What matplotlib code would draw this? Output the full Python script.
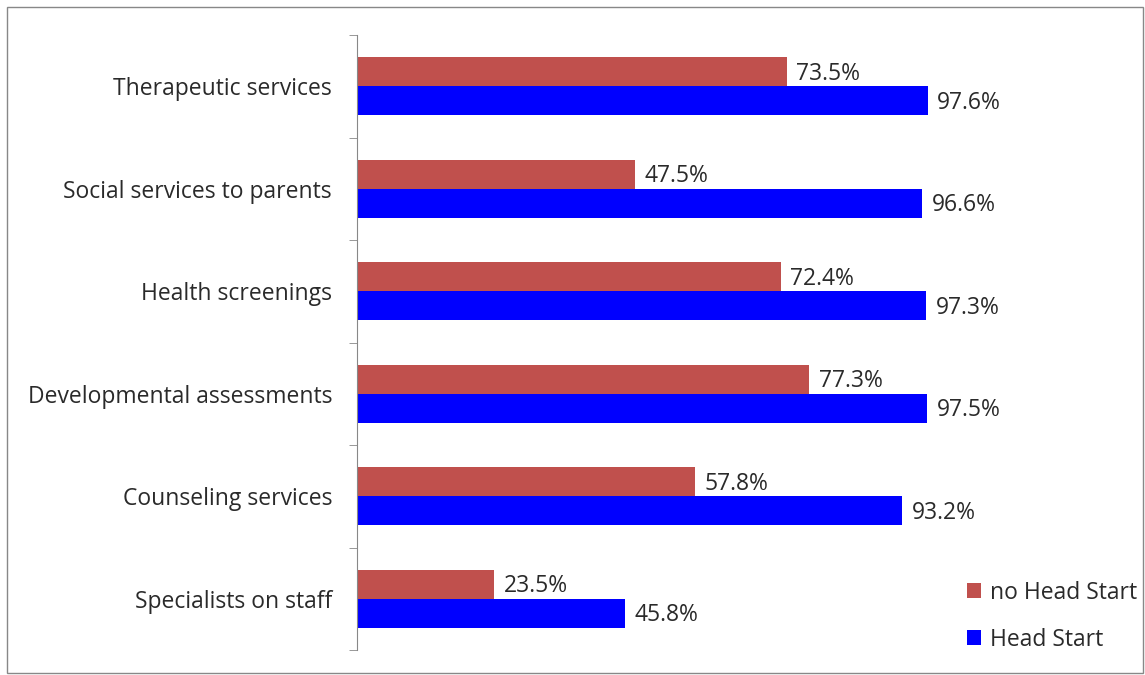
import matplotlib.pyplot as plt
import matplotlib.patches as mpatches
import numpy as np

categories = ["Therapeutic services", "Social services to parents", "Health screenings",
              "Developmental assessments", "Counseling services", "Specialists on staff"]
no_head_start = [73.5, 47.5, 72.4, 77.3, 57.8, 23.5]
head_start = [97.6, 96.6, 97.3, 97.5, 93.2, 45.8]

plt.rcParams['font.family'] = ['Open Sans', 'DejaVu Sans']
text_color = "#2a2a2a"
fs = 16.5

fig = plt.figure(figsize=(11.45, 6.75), dpi=100)
ax = fig.add_axes([357 / 1145, 25 / 675, (1130 - 357) / 1145, (650 - 35) / 675])

y = np.arange(len(categories))
h = 0.285
ax.barh(y - h / 2, no_head_start, height=h, color="#C0504D", label="no Head Start")
ax.barh(y + h / 2, head_start, height=h, color="#0000FF", label="Head Start")

for yi, v in zip(y, no_head_start):
    ax.text(v + 1.6, yi - h / 2 + 0.02, f"{v:.1f}%", va="center", ha="left", fontsize=fs, color=text_color)
for yi, v in zip(y, head_start):
    ax.text(v + 1.6, yi + h / 2 + 0.02, f"{v:.1f}%", va="center", ha="left", fontsize=fs, color=text_color)

ax.set_xlim(0, (1130 - 357) / 5.85)
ax.set_ylim(len(categories) - 0.5, -0.5)
ax.set_yticks(y)
ax.set_yticklabels(categories, fontsize=fs, color=text_color)
ax.set_yticks(np.arange(-0.5, len(categories)), minor=True)
ax.tick_params(axis="y", which="major", length=0, pad=18)
ax.tick_params(axis="y", which="minor", length=6, color="#888888", direction="out")
ax.set_xticks([])
for s in ["top", "right", "bottom"]:
    ax.spines[s].set_visible(False)
ax.spines["left"].set_color("#888888")

fig.legend(*ax.get_legend_handles_labels(), loc="lower left",
           bbox_to_anchor=(956 / 1145, 12 / 675), frameon=False, fontsize=fs, borderpad=0,
           handlelength=0.6, handleheight=0.6, handletextpad=0.4, labelspacing=1.0,
           labelcolor=text_color)

fig.patches.append(mpatches.Rectangle((7 / 1145, 2 / 675), 1136 / 1145, 666 / 675,
                                      transform=fig.transFigure, fill=False,
                                      edgecolor="#888888", linewidth=1))

fig.savefig("out.png", dpi=100)
